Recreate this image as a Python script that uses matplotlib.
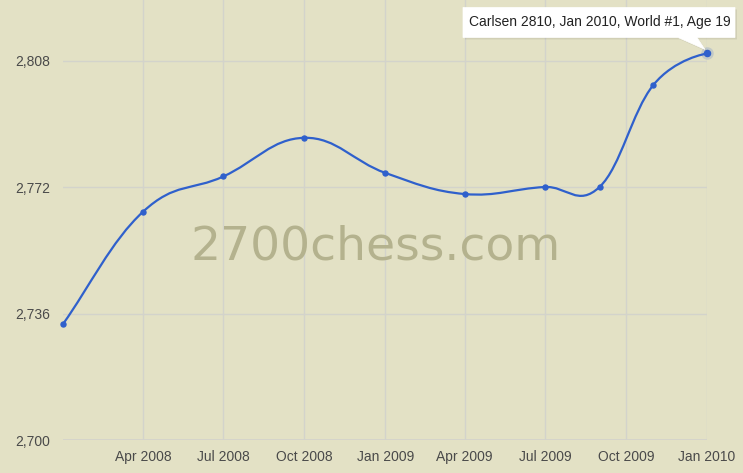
import matplotlib
matplotlib.use("Agg")
import matplotlib.pyplot as plt
import matplotlib.dates as mdates
from matplotlib.path import Path
from matplotlib.patches import PathPatch, Polygon
from matplotlib.transforms import IdentityTransform
import datetime as dt

# ---- data ----
dates = ["2008-01-01", "2008-04-01", "2008-07-01", "2008-10-01", "2009-01-01",
         "2009-04-01", "2009-07-01", "2009-09-01", "2009-11-01", "2010-01-01"]
ratings = [2733, 2765, 2775, 2786, 2776, 2770, 2772, 2772, 2801, 2810]
y_ticks = [2700, 2736, 2772, 2808]
x_tick_dates = ["2008-04-01", "2008-07-01", "2008-10-01", "2009-01-01",
                "2009-04-01", "2009-07-01", "2009-10-01", "2010-01-01"]
x_tick_labels = ["Apr 2008", "Jul 2008", "Oct 2008", "Jan 2009",
                 "Apr 2009", "Jul 2009", "Oct 2009", "Jan 2010"]
tooltip_text = "Carlsen 2810, Jan 2010, World #1, Age 19"
watermark = "2700chess.com"

BG = "#e3e1c5"
GRID = "#d3d3cb"
LINE = "#2f60cc"
TXT = "#4a4a4a"

W, H = 743, 473
fig = plt.figure(figsize=(W / 100, H / 100), dpi=100, facecolor=BG)
ax = fig.add_axes([63 / W, 33 / H, 644 / W, 440 / H], facecolor=BG)

xs = [mdates.date2num(dt.datetime.strptime(d, "%Y-%m-%d")) for d in dates]
ys = list(ratings)

# smooth spline through the points (control points parallel to neighbour chord)
def spline_path(xs, ys, smoothing=1.5):
    denom = smoothing + 1
    n = len(xs)
    right = [None] * n
    # first point: leave along the chord
    right[0] = (xs[0] + (xs[1] - xs[0]) / 3, ys[0] + (ys[1] - ys[0]) / 3)
    verts = [(xs[0], ys[0])]
    codes = [Path.MOVETO]
    for i in range(1, n):
        px, py = xs[i], ys[i]
        if i < n - 1:
            lx, ly = xs[i - 1], ys[i - 1]
            nx, ny = xs[i + 1], ys[i + 1]
            lcx = (smoothing * px + lx) / denom
            lcy = (smoothing * py + ly) / denom
            rcx = (smoothing * px + nx) / denom
            rcy = (smoothing * py + ny) / denom
            corr = ((rcy - lcy) * (rcx - px)) / (rcx - lcx) + py - rcy
            lcy += corr
            rcy += corr
            right[i] = (rcx, rcy)
        else:
            lcx, lcy = px, py
        verts += [right[i - 1], (lcx, lcy), (px, py)]
        codes += [Path.CURVE4] * 3
    return Path(verts, codes)

ax.add_patch(PathPatch(spline_path(xs, ys), facecolor="none", edgecolor=LINE,
                       lw=1.6, zorder=3, capstyle="round", joinstyle="round",
                       clip_on=False))
ax.plot(xs[:-1], ys[:-1], "o", ms=3.6, color=LINE, mec=LINE, zorder=4, clip_on=False)
ax.plot(xs[-1:], ys[-1:], "o", ms=9, color=LINE, alpha=0.18, mew=0, zorder=4, clip_on=False)
ax.plot(xs[-1:], ys[-1:], "o", ms=4.4, color=LINE, mec=LINE, zorder=5, clip_on=False)

x0 = mdates.date2num(dt.datetime(2008, 1, 1))
x1 = mdates.date2num(dt.datetime(2010, 1, 1))
ax.set_xlim(x0, x1)
ax.set_ylim(2700, 2700 + 440 * 36 / 126.5)

xt = [mdates.date2num(dt.datetime.strptime(d, "%Y-%m-%d")) for d in x_tick_dates]
ax.set_xticks(xt)
ax.set_xticklabels(x_tick_labels)
ax.set_yticks(y_ticks)
ax.set_yticklabels([f"{v:,}" for v in y_ticks])
ax.tick_params(axis="both", length=0, labelsize=10, labelcolor=TXT)
ax.tick_params(axis="x", pad=7.5)
ax.tick_params(axis="y", pad=9.5)
for lab in ax.get_xticklabels() + ax.get_yticklabels():
    lab.set_fontfamily("Liberation Sans")
ax.grid(True, color=GRID, lw=1.0)
ax.set_axisbelow(True)
for s in ax.spines.values():
    s.set_visible(False)
ax.axhline(2700, color=GRID, lw=1.2, zorder=1)

ax.text(0.485, 0.438, watermark, transform=ax.transAxes, fontsize=34,
        family="DejaVu Sans", color="#b4b28e", ha="center", va="center", zorder=2)

# tooltip (pixel coords relative to the last point)
fig.canvas.draw()
px, py = ax.transData.transform((xs[-1], ys[-1]))
bx0, bx1 = px - 244, px + 28
by1 = py + 16
by0 = by1 + 30
tri_l, tri_r = px - 29, px - 10
tip_pt = (px - 2, py + 4)
so = 2
shadow = [(bx0 + so, by0 - so), (bx1 + so, by0 - so), (bx1 + so, by1 - so),
          (tri_r + so, by1 - so), (tip_pt[0] + so, tip_pt[1] - so),
          (tri_l + so, by1 - so), (bx0 + so, by1 - so)]
fig.add_artist(Polygon(shadow, closed=True, transform=IdentityTransform(),
                       facecolor="black", alpha=0.08, edgecolor="none", zorder=9))
tip = [(bx0, by0), (bx1, by0), (bx1, by1), (tri_r, by1), tip_pt,
       (tri_l, by1), (bx0, by1)]
fig.add_artist(Polygon(tip, closed=True, transform=IdentityTransform(),
                       facecolor="white", edgecolor="white", lw=0.5, zorder=10))
fig.text((bx0 + bx1) / 2 / W + 1 / W, (by0 + by1) / 2 / H, tooltip_text, ha="center",
         va="center", fontsize=10, family="Liberation Sans", color="#222222", zorder=11)

fig.savefig("out.png", dpi=100, facecolor=BG)
